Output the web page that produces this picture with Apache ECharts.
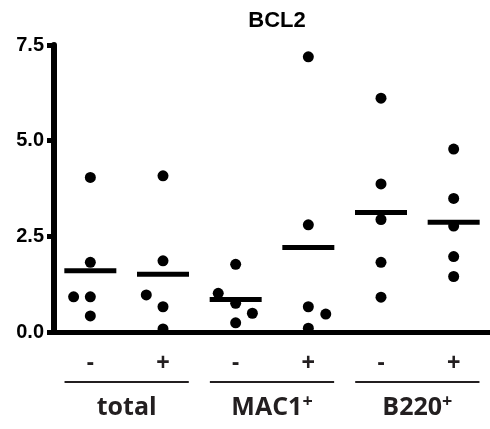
<!DOCTYPE html>
<html><head><meta charset="utf-8">
<script src="https://cdn.jsdelivr.net/npm/echarts@6/dist/echarts.min.js"></script>
<style>html,body{margin:0;padding:0;background:#fff}#c{width:490px;height:429px}</style>
</head><body><div id="c"></div>
<script>
const title = 'BCL2';
const conditions = ['-', '+', '-', '+', '-', '+'];
const groups = ['total', 'MAC1', 'B220'];
const groupSup = ['', '+', '+'];
const yTicks = [0, 2.5, 5.0, 7.5];
// replicate values per condition (left to right)
const totalMinus = [4.04, 1.82, 0.92, 0.92, 0.42];
const totalPlus = [4.08, 1.86, 0.97, 0.66, 0.08];
const mac1Minus = [1.77, 1.01, 0.75, 0.49, 0.24];
const mac1Plus = [7.19, 2.80, 0.66, 0.47, 0.10];
const b220Minus = [6.11, 3.87, 2.94, 1.82, 0.91];
const b220Plus = [4.78, 3.49, 2.77, 1.97, 1.45];
// horizontal spread of overlapping dots (in category units)
const spreadTotalMinus = [0, 0, -0.23, 0, 0];
const spreadTotalPlus = [0, 0, -0.23, 0, 0];
const spreadMac1Minus = [0, -0.24, 0, 0.23, 0];
const spreadMac1Plus = [0, 0, 0, 0.24, 0];
const spreadB220Minus = [0, 0, 0, 0, 0];
const spreadB220Plus = [0, 0, 0, 0, 0];
// mean line values
const means = [1.60, 1.51, 0.85, 2.21, 3.12, 2.87];

const allValues = [totalMinus, totalPlus, mac1Minus, mac1Plus, b220Minus, b220Plus];
const allSpread = [spreadTotalMinus, spreadTotalPlus, spreadMac1Minus, spreadMac1Plus, spreadB220Minus, spreadB220Plus];
const dots = [];
allValues.forEach((vals, i) => vals.forEach((v, j) => dots.push([i + allSpread[i][j], v])));
const meanData = means.map((m, i) => [i, m]);

const chart = echarts.init(document.getElementById('c'));
const bold = 'Liberation Sans, Arial, sans-serif';
const labelFont = 'Open Sans, Noto Sans, sans-serif';
chart.setOption({
  animation: false,
  title: { text: title, left: 272, textAlign: 'center', top: 5,
    textStyle: { fontFamily: bold, fontWeight: 'bold', fontSize: 22, color: '#000' } },
  grid: { left: 54, right: 0, top: 45, bottom: 97 },
  xAxis: [
    { type: 'category', data: conditions, position: 'bottom',
      axisLine: { onZero: false, lineStyle: { color: '#000', width: 5 } },
      axisTick: { alignWithLabel: true, length: 8, lineStyle: { color: '#000', width: 5 } },
      axisLabel: { margin: 20, fontFamily: bold, fontWeight: 'bold', fontSize: 23, color: '#231f20' } },
    { type: 'category', data: groups, position: 'bottom', offset: 61,
      axisLine: { show: false }, axisTick: { show: false },
      axisLabel: { margin: 0, formatter: (v, idx) => '{b|' + v + '}' + (groupSup[idx] ? '{s|' + groupSup[idx] + '}' : ''),
        rich: { b: { fontFamily: labelFont, fontWeight: 'bold', fontSize: 25, color: '#231f20', lineHeight: 30 },
                s: { fontFamily: labelFont, fontWeight: 'bold', fontSize: 18, color: '#231f20', verticalAlign: 'top', lineHeight: 16 } } } },
    { type: 'value', min: -0.5, max: 5.5, show: false }
  ],
  yAxis: { type: 'value', min: 0, max: 7.5, interval: 2.5,
    axisLine: { show: true, onZero: false, lineStyle: { color: '#000', width: 6 } },
    axisTick: { show: true, length: 7, lineStyle: { color: '#000', width: 5 } },
    splitLine: { show: false },
    axisLabel: { margin: 10, formatter: v => v.toFixed(1), fontFamily: bold, fontWeight: 'bold', fontSize: 20, color: '#000' } },
  series: [
    { type: 'scatter', xAxisIndex: 2, data: dots, symbol: 'circle', symbolSize: 11,
      itemStyle: { color: '#000', opacity: 1 } },
    { type: 'scatter', xAxisIndex: 2, data: meanData, symbol: 'rect', symbolSize: [52, 5],
      itemStyle: { color: '#000', opacity: 1 } }
  ]
});
// group underlines, positioned via the axis scale
const lineY = 382;
const half = 0.855;
const graphics = groups.map((g, k) => {
  const c = 2 * k + 0.5;
  const x1 = chart.convertToPixel({ xAxisIndex: 2 }, c - half);
  const x2 = chart.convertToPixel({ xAxisIndex: 2 }, c + half);
  return { type: 'line', shape: { x1: x1, y1: lineY, x2: x2, y2: lineY }, style: { stroke: '#231f20', lineWidth: 2 } };
});
chart.setOption({ graphic: graphics });
</script></body></html>
